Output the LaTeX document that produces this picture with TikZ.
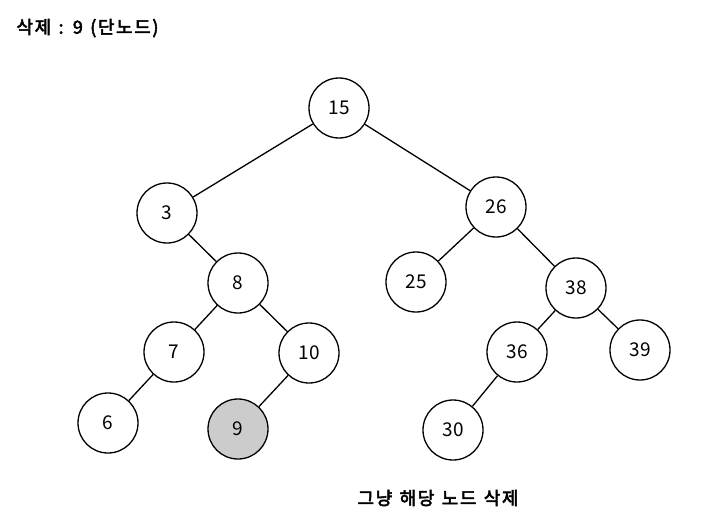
\documentclass[tikz,border=0pt]{standalone}
\usepackage{fontspec}
\setmainfont{Noto Sans CJK KR}
\newfontfamily\krbold{Noto Sans CJK KR}[FakeBold=3,LetterSpace=9,WordSpace=1.3]
\begin{document}
\begin{tikzpicture}[x=1pt,y=-1pt,
  tnode/.style={circle,draw,line width=1.3pt,minimum size=60pt,inner sep=0pt,font=\fontsize{19}{19}\selectfont},
  deleted/.style={tnode,fill=black!20},
  edge/.style={line width=1.3pt},
  label/.style={font=\krbold\fontsize{18}{18}\selectfont,anchor=west}]
\useasboundingbox (0,0) rectangle (713,522);
\node[tnode] (n15) at (339,108) {15};
\node[tnode] (n3) at (167,213) {3};
\node[tnode] (n26) at (496,207) {26};
\node[tnode] (n8) at (238,283) {8};
\node[tnode] (n25) at (416,282) {25};
\node[tnode] (n38) at (576,288) {38};
\node[tnode] (n7) at (174,352) {7};
\node[tnode] (n10) at (309,353) {10};
\node[tnode] (n36) at (517,352) {36};
\node[tnode] (n39) at (640,350) {39};
\node[tnode] (n6) at (108,423) {6};
\node[deleted] (n9) at (238,429) {9};
\node[tnode] (n30) at (453,430) {30};
\draw[edge] (n15) -- (n3);
\draw[edge] (n15) -- (n26);
\draw[edge] (n3) -- (n8);
\draw[edge] (n8) -- (n7);
\draw[edge] (n8) -- (n10);
\draw[edge] (n7) -- (n6);
\draw[edge] (n10) -- (n9);
\draw[edge] (n26) -- (n25);
\draw[edge] (n26) -- (n38);
\draw[edge] (n38) -- (n36);
\draw[edge] (n38) -- (n39);
\draw[edge] (n36) -- (n30);
\node[label] (title) at (13,28) {삭제 : 9 (단노드)};
\node[label] (note) at (354,498) {그냥 해당 노드 삭제};
\end{tikzpicture}
\end{document}
